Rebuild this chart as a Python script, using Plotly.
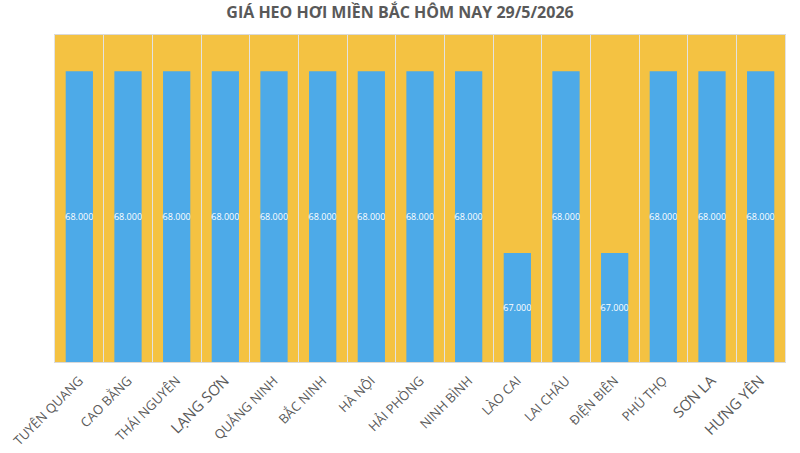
import plotly.graph_objects as go

provinces = [
    "TUYÊN QUANG", "CAO BẰNG", "THÁI NGUYÊN", "LẠNG SƠN", "QUẢNG NINH",
    "BẮC NINH", "HÀ NỘI", "HẢI PHÒNG", "NINH BÌNH", "LÀO CAI",
    "LAI CHÂU", "ĐIỆN BIÊN", "PHÚ THỌ", "SƠN LA", "HƯNG YÊN",
]
prices = [68000, 68000, 68000, 68000, 68000, 68000, 68000, 68000,
          68000, 67000, 68000, 67000, 68000, 68000, 68000]
# a few labels are drawn a bit larger in the original
big_labels = {"LẠNG SƠN", "SƠN LA", "HƯNG YÊN"}
tick_text = [
    f'<span style="font-size:15px">{p}</span>' if p in big_labels else p
    for p in provinces
]

# the y axis starts above zero, so bars are drawn from its bottom
y_min, y_max = 66400, 68200

fig = go.Figure()
fig.add_trace(
    go.Bar(
        x=provinces,
        y=[p - y_min for p in prices],
        base=y_min,
        customdata=prices,
        width=0.56,
        marker=dict(color="#4DAAE8", line=dict(width=0)),
        texttemplate="%{customdata:,.0f}",
        textposition="inside",
        insidetextanchor="middle",
        textangle=0,
        constraintext="none",
        textfont=dict(color="white", size=9, family="Open Sans"),
    )
)
fig.update_layout(
    width=800,
    height=453,
    separators=",.",
    paper_bgcolor="white",
    plot_bgcolor="#F4C242",
    margin=dict(l=55, r=15, t=35, b=91),
    showlegend=False,
    title=dict(
        text="<b>GIÁ HEO HƠI MIỀN BẮC HÔM NAY 29/5/2026</b>",
        x=0.5,
        xanchor="center",
        y=0.972,
        yanchor="middle",
        font=dict(family="Open Sans", size=16, color="#595959"),
    ),
    xaxis=dict(
        tickmode="array",
        tickvals=provinces,
        ticktext=tick_text,
        tickangle=-45,
        tickson="boundaries",
        ticks="",
        ticklabelstandoff=5,
        showgrid=True,
        gridcolor="#E2E2E2",
        gridwidth=1,
        showline=True,
        linecolor="#D9D9D9",
        mirror=True,
        automargin=False,
        tickfont=dict(family="Open Sans", size=13, color="#595959"),
    ),
    yaxis=dict(
        range=[y_min, y_max],
        showticklabels=False,
        showgrid=False,
        zeroline=False,
        showline=True,
        linecolor="#E2E2E2",
        mirror=True,
        automargin=False,
    ),
)
# drop the browser's default page margin so the figure sits at the corner
fig.write_html(
    "out.html",
    config={"displayModeBar": False},
    post_script="document.body.style.margin = '0';",
)
